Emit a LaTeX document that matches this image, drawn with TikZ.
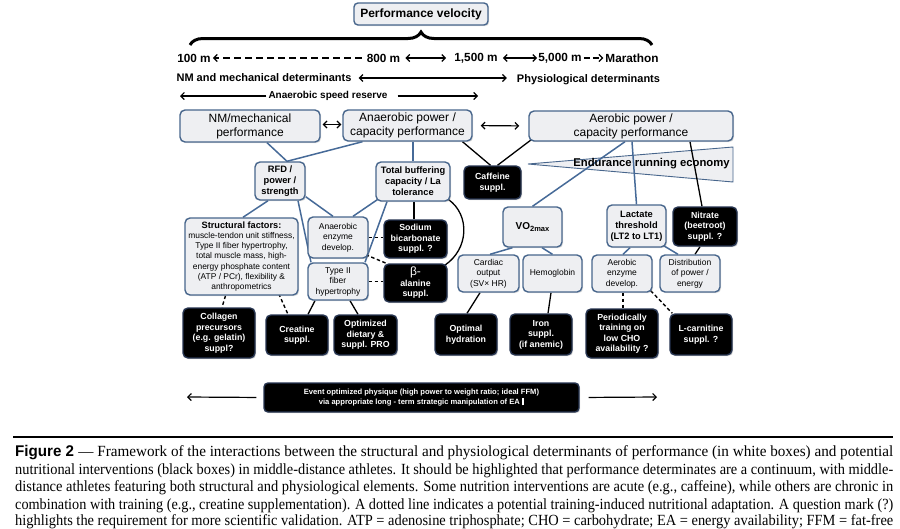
\documentclass[tikz,border=0pt]{standalone}
\usepackage{fontspec}
\setmainfont{Liberation Sans}
\newfontfamily\capserif{Liberation Serif}
\usepackage{graphicx}
\usetikzlibrary{arrows.meta,decorations.pathreplacing,shadows,backgrounds}
\definecolor{bord}{RGB}{72,102,140}
\definecolor{boxfill}{RGB}{238,239,242}
\definecolor{linecol}{RGB}{70,106,152}
\definecolor{bbord}{RGB}{38,52,80}
\begin{document}
\begin{tikzpicture}[x=1pt,y=-1pt,
  wbox/.style={draw=bord, fill=boxfill, line width=1.4pt, rounded corners=5pt, align=center, inner sep=1pt,
     drop shadow={opacity=0.25, shadow xshift=1.2pt, shadow yshift=-1.2pt}},
  bbox/.style={draw=bbord, fill=black, text=white, line width=1.4pt, rounded corners=5pt, align=center, inner sep=1pt,
     font=\bfseries\fontsize{8.8}{10.5}\selectfont,
     drop shadow={opacity=0.3, shadow xshift=1.2pt, shadow yshift=-1.2pt}},
  bigtxt/.style={font=\fontsize{12}{14}\selectfont},
  smalltxt/.style={font=\fontsize{8.5}{10.5}\selectfont},
  boldtxt/.style={font=\bfseries\fontsize{9.3}{11}\selectfont},
  rowtxt/.style={font=\bfseries\fontsize{11.8}{13}\selectfont, inner sep=0pt},
  bline/.style={draw=linecol, line width=1.5pt},
  kline/.style={draw=black, line width=1.3pt},
  dline/.style={draw=black, line width=1.4pt, dash pattern=on 3.5pt off 2.5pt},
  arr/.style={line width=1.2pt, -{Straight Barb[length=3.5pt,width=7pt]}},
  darr/.style={line width=1.2pt, {Straight Barb[length=3.5pt,width=7pt]}-{Straight Barb[length=3.5pt,width=7pt]}},
  captxt/.style={anchor=base west, inner sep=0pt}
]
\useasboundingbox (0,0) rectangle (900,528);

% title and brace
\node[wbox, rounded corners=4pt, minimum width=134pt, minimum height=22pt, font=\bfseries\fontsize{12}{14}\selectfont] (pv) at (421,14) {Performance velocity};
\draw[line width=3pt, decorate, decoration={brace, amplitude=13pt}] (190,45) -- (652,45);

% distance row
\node[rowtxt] (d100) at (194,58) {100 m};
\node[rowtxt] (d800) at (383.5,58) {800 m};
\node[rowtxt] (d1500) at (476,58) {1,500 m};
\node[rowtxt] (d5000) at (560,58) {5,000 m};
\node[rowtxt] (dmar) at (632,58) {Marathon};
\draw[arr, dash pattern=on 7pt off 4pt, shorten <=5pt, shorten >=2pt] (d800.west) -- (d100.east);
\draw[darr, shorten <=5pt, shorten >=8pt] (d800.east) -- (d1500.west);
\draw[darr, shorten <=5pt, shorten >=1pt] (d1500.east) -- (d5000.west);
\draw[arr, dash pattern=on 6pt off 3pt, shorten <=2pt, shorten >=2pt] (d5000.east) -- (dmar.west);

\node[font=\bfseries\fontsize{11}{13}\selectfont, inner sep=0pt] (nmd) at (264,78) {NM and mechanical determinants};
\node[font=\bfseries\fontsize{11}{13}\selectfont, inner sep=0pt] (phd) at (588.5,80) {Physiological determinants};
\draw[darr, shorten <=7pt, shorten >=10pt] (nmd.east) -- (phd.west |- nmd.east);

\node[font=\bfseries\fontsize{10}{12}\selectfont, inner sep=0pt] (asr) at (328,96) {Anaerobic speed reserve};
\coordinate (asrl) at (180,96);
\coordinate (asrr) at (478,96);
\draw[arr, shorten <=2pt] (asr.west) -- (asrl);
\draw[arr, shorten <=10pt] (asr.east) -- (asrr);

% performance boxes
\node[wbox, bigtxt, minimum width=140pt, minimum height=32pt] (nmp) at (250,126) {NM/mechanical\\performance};
\node[wbox, bigtxt, minimum width=129pt, minimum height=31pt] (anp) at (407.5,125.5) {Anaerobic power /\\capacity performance};
\node[wbox, bigtxt, minimum width=204pt, minimum height=30pt] (aep) at (631,126) {Aerobic power /\\capacity performance};
\draw[darr, shorten <=2pt, shorten >=1pt] ([yshift=1.5pt]nmp.east) -- ([yshift=1pt]anp.west);
\draw[darr, shorten <=8pt, shorten >=9pt] (anp.east) -- (aep.west);

\node[bbox, minimum width=57pt, minimum height=33pt] (caf) at (492.5,182.5) {Caffeine\\suppl.};

% anaerobic branch
\node[wbox, boldtxt, minimum width=50pt, minimum height=38pt] (rfd) at (280,181) {RFD /\\power /\\strength};
\node[wbox, boldtxt, minimum width=74pt, minimum height=39pt] (tbc) at (413,181.5) {Total buffering\\capacity / La\\tolerance};
\node[wbox, font=\fontsize{8.4}{10.3}\selectfont, minimum width=113pt, minimum height=77pt] (stf) at (241.5,256.5)
  {{\bfseries\fontsize{9.2}{10.5}\selectfont Structural factors:}\\muscle-tendon unit stiffness,\\Type II fiber hypertrophy,\\total muscle mass, high-\\energy phosphate content\\(ATP / PCr), flexibility \&\\anthropometrics};
\node[wbox, smalltxt, minimum width=60pt, minimum height=41pt] (aed) at (338,237.5) {Anaerobic\\enzyme\\develop.};
\node[wbox, smalltxt, minimum width=60pt, minimum height=37pt] (t2f) at (338,281.5) {Type II\\fiber\\hypertrophy};
\node[bbox, minimum width=63pt, minimum height=38pt] (sbc) at (415.5,239) {Sodium\\bicarbonate\\suppl. ?};
\node[bbox, minimum width=63pt, minimum height=38pt] (bal) at (415.5,283) {{\mdseries\fontsize{12}{11}\selectfont β-}\\alanine\\suppl.};

% aerobic branch
\node[wbox, minimum width=59pt, minimum height=40pt] (vo2) at (532.5,227) {\bfseries\fontsize{10}{12}\selectfont VO\raisebox{-1.5pt}{\fontsize{7.5}{9}\selectfont 2max}};
\node[wbox, boldtxt, minimum width=59pt, minimum height=42pt] (lac) at (636.5,226) {Lactate\\threshold\\(LT2 to LT1)};
\node[bbox, minimum width=64pt, minimum height=39pt] (nit) at (705,226.5) {Nitrate\\(beetroot)\\suppl. ?};
\node[wbox, smalltxt, minimum width=61pt, minimum height=37pt] (car) at (488.5,273.5) {Cardiac\\output\\(SV× HR)};
\node[wbox, smalltxt, minimum width=59pt, minimum height=37pt] (hem) at (552.5,273.5) {Hemoglobin};
\node[wbox, smalltxt, minimum width=60pt, minimum height=37pt] (aen) at (622,273.5) {Aerobic\\enzyme\\develop.};
\node[wbox, smalltxt, minimum width=60pt, minimum height=37pt] (dis) at (690,273.5) {Distribution\\of power /\\energy};

% bottom black boxes
\node[bbox, minimum width=72pt, minimum height=50pt] (col) at (219,333) {Collagen\\precursors\\(e.g. gelatin)\\suppl?};
\node[bbox, minimum width=62pt, minimum height=40pt] (cre) at (297,335) {Creatine\\suppl.};
\node[bbox, minimum width=63pt, minimum height=40pt] (opt) at (365.5,335) {Optimized\\dietary \&\\suppl. PRO};
\node[bbox, minimum width=62pt, minimum height=41pt] (hyd) at (466,334.5) {Optimal\\hydration};
\node[bbox, minimum width=62pt, minimum height=41pt] (iro) at (541,334.5) {Iron\\suppl.\\(if anemic)};
\node[bbox, minimum width=72pt, minimum height=49pt] (per) at (622,333.5) {Periodically\\training on\\low CHO\\availability ?};
\node[bbox, minimum width=62pt, minimum height=41pt] (lcr) at (701,334.5) {L-carnitine\\suppl. ?};

% event bar
\node[bbox, rounded corners=4pt, minimum width=315pt, minimum height=29pt, font=\bfseries\fontsize{7.6}{10}\selectfont] (evt) at (421.5,397.5)
  {Event optimized physique (high power to weight ratio; ideal FFM)\\via appropriate long - term strategic manipulation of EA \rule[-0.8pt]{2.2pt}{7.5pt}};
\coordinate (evl) at (187,397);
\coordinate (evr) at (657,397);
\draw[arr, shorten <=7pt] (evt.west) -- (evl);
\draw[arr, shorten <=9pt] (evt.east) -- (evr);

% background: triangle and connectors
\begin{scope}[on background layer]
\fill[white] (0,0) rectangle (900,528);
\draw[fill=boxfill, draw=bord, line width=0.9pt] (528,164) -- (733,147) -- (733,182) -- cycle;
\draw[bline] ([xshift=17pt]nmp.south) -- ([xshift=7pt]rfd.north);
\draw[bline] ([xshift=-45pt]anp.south) -- ([xshift=7pt]rfd.north);
\draw[bline] (tbc.north) -- (tbc.north |- anp.south);
\draw[kline] ([xshift=55pt]anp.south) -- ([xshift=-2pt]caf.north);
\draw[kline] ([xshift=3pt,yshift=2pt]aep.south west) -- ([xshift=5pt]caf.north);
\draw[bline] ([xshift=-12pt]rfd.south) -- ([xshift=1.5pt]stf.north);
\draw[bline] ([yshift=4pt]rfd.south east) -- ([xshift=-5pt]aed.north);
\draw[bline] ([xshift=18pt]rfd.south) -- ([xshift=-27pt]t2f.north);
\draw[bline] ([xshift=2pt,yshift=2pt]tbc.south west) -- ([xshift=15pt]aed.north);
\draw[bline] ([xshift=-26pt]tbc.south) -- ([xshift=27pt]t2f.north);
\draw[kline] ([xshift=1pt]tbc.south) -- ([xshift=-1.5pt]sbc.north);
\draw[kline] ([xshift=-2pt,yshift=2pt]tbc.south east) .. controls (470,215) and (469,249) .. ([xshift=-3pt,yshift=-2pt]bal.north east);
\draw[dline] (aed.east) -- (sbc.west |- aed.east);
\draw[dline] ([xshift=-3pt,yshift=4pt]aed.south east) -- ([xshift=3pt]bal.north west);
\draw[dline] (t2f.east) -- (bal.west |- t2f.east);
\draw[dline] ([xshift=-16pt]stf.south) -- ([xshift=3pt]col.north);
\draw[dline] ([xshift=-20pt,yshift=2pt]stf.south east) -- ([xshift=-9pt]cre.north);
\draw[kline] ([xshift=-23pt]t2f.south) -- ([xshift=11pt]cre.north);
\draw[kline] ([xshift=12pt]t2f.south) -- ([xshift=-7.5pt]opt.north);
\draw[bline] ([xshift=-6pt]aep.south) -- (vo2.north);
\draw[bline] ([xshift=1pt]aep.south) -- (lac.north);
\draw[kline] ([xshift=59pt]aep.south) -- ([xshift=-3pt]nit.north);
\draw[bline] ([xshift=-20pt]vo2.south) -- ([xshift=1.5pt]car.north);
\draw[bline] ([xshift=9.5pt]vo2.south) -- (hem.north);
\draw[bline] ([xshift=-6.5pt]lac.south) -- ([xshift=1pt]aen.north);
\draw[bline] ([xshift=-3pt,yshift=2pt]lac.south east) -- ([xshift=-12pt]dis.north);
\draw[kline] ([xshift=-5pt]nit.south) -- ([xshift=5pt]dis.north);
\draw[kline] ([xshift=-8.5pt]car.south) -- ([xshift=1pt]hyd.north);
\draw[kline] ([xshift=-1.5pt]hem.south) -- ([xshift=7pt]iro.north);
\draw[dline] ([xshift=1pt]aen.south) -- ([xshift=1pt]per.north);
\draw[dline] ([xshift=-2pt,yshift=2pt]aen.south east) -- ([xshift=3pt]lcr.north west);
\end{scope}

\node[font=\bfseries\fontsize{11.3}{13}\selectfont, inner sep=0pt] (ere) at (651.5,164) {Endurance running economy};

% caption
\coordinate (rl) at (13,437);
\coordinate (rr) at (893,437);
\draw[line width=1.5pt] (rl) -- (rr);
\node[captxt] (cap1) at (15,456.5) {\resizebox{878pt}{\height}{\fontsize{15.5}{17}\selectfont\bfseries Figure 2\ \mdseries\capserif — Framework of the interactions between the structural and physiological determinants of performance (in white boxes) and potential}};
\node[captxt] (cap2) at (15,474) {\resizebox{878pt}{\height}{\fontsize{15.5}{17}\selectfont\capserif nutritional interventions (black boxes) in middle-distance athletes. It should be highlighted that performance determinates are a continuum, with middle-}};
\node[captxt] (cap3) at (15,491.5) {\resizebox{878pt}{\height}{\fontsize{15.5}{17}\selectfont\capserif distance athletes featuring both structural and physiological elements. Some nutrition interventions are acute (e.g., caffeine), while others are chronic in}};
\node[captxt] (cap4) at (15,509) {\resizebox{878pt}{\height}{\fontsize{15.5}{17}\selectfont\capserif combination with training (e.g., creatine supplementation). A dotted line indicates a potential training-induced nutritional adaptation. A question mark (?)}};
\node[captxt] (cap5) at (15,525.5) {\resizebox{878pt}{\height}{\fontsize{15.5}{17}\selectfont\capserif highlights the requirement for more scientific validation. ATP = adenosine triphosphate; CHO = carbohydrate; EA = energy availability; FFM = fat-free}};
\end{tikzpicture}
\end{document}
